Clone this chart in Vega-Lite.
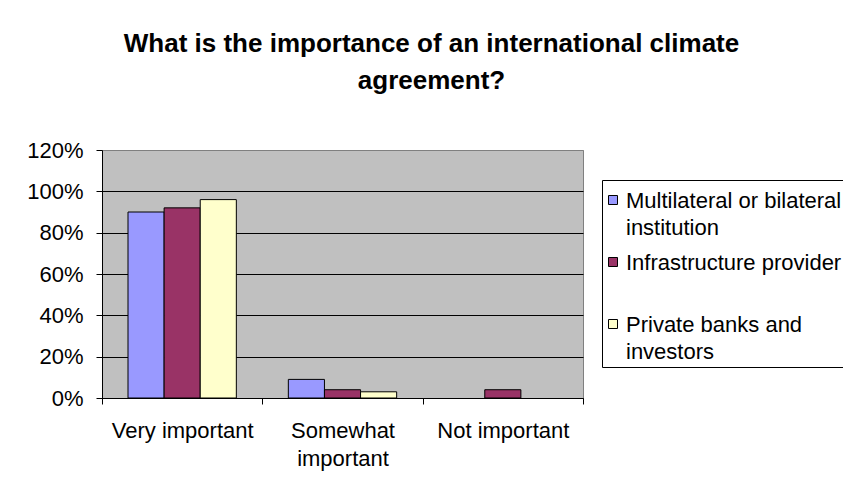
{
  "$schema": "https://vega.github.io/schema/vega-lite/v6.json",
  "autosize": {"type": "none"},
  "width": 481,
  "height": 248,
  "padding": {"left": 102, "top": 150, "right": 260, "bottom": 92},
  "background": "white",
  "title": {
    "text": ["What is the importance of an international climate", "agreement?"],
    "font": "Liberation Sans",
    "fontSize": 26,
    "fontWeight": "bold",
    "color": "black",
    "anchor": "middle",
    "dx": 89,
    "lineHeight": 37,
    "offset": 45
  },
  "data": {
    "values": [
      {"category": "Very important", "group": "Multilateral or bilateral institution", "value": 0.90},
      {"category": "Very important", "group": "Infrastructure provider", "value": 0.92},
      {"category": "Very important", "group": "Private banks and investors", "value": 0.96},
      {"category": "Somewhat important", "group": "Multilateral or bilateral institution", "value": 0.09},
      {"category": "Somewhat important", "group": "Infrastructure provider", "value": 0.04},
      {"category": "Somewhat important", "group": "Private banks and investors", "value": 0.03},
      {"category": "Not important", "group": "Infrastructure provider", "value": 0.04}
    ]
  },
  "mark": {"type": "bar", "stroke": "black", "strokeWidth": 1},
  "encoding": {
    "x": {
      "field": "category",
      "type": "nominal",
      "sort": ["Very important", "Somewhat important", "Not important"],
      "scale": {"paddingInner": 0, "paddingOuter": 0},
      "axis": {
        "title": null,
        "labelAngle": 0,
        "labelFont": "Liberation Sans",
        "labelFontSize": 22,
        "labelColor": "black",
        "labelPadding": 16,
        "labelLineHeight": 28,
        "labelExpr": "datum.label == 'Somewhat important' ? ['Somewhat', 'important'] : datum.label",
        "tickBand": "extent",
        "tickSize": 6,
        "tickColor": "black",
        "domainColor": "black",
        "grid": false
      }
    },
    "xOffset": {
      "field": "group",
      "type": "nominal",
      "sort": ["Multilateral or bilateral institution", "Infrastructure provider", "Private banks and investors"],
      "scale": {"domain": ["Multilateral or bilateral institution", "Infrastructure provider", "Private banks and investors"], "paddingInner": 0, "paddingOuter": 0.72}
    },
    "y": {
      "field": "value",
      "type": "quantitative",
      "scale": {"domain": [0, 1.2], "nice": false},
      "axis": {
        "title": null,
        "values": [0, 0.2, 0.4, 0.6, 0.8, 1.0, 1.2],
        "format": ".0%",
        "labelFont": "Liberation Sans",
        "labelFontSize": 22,
        "labelColor": "black",
        "labelPadding": 13,
        "tickSize": 6,
        "tickColor": "black",
        "domainColor": "black",
        "grid": true,
        "gridColor": {"condition": {"test": "datum.value >= 1.19", "value": "#808080"}, "value": "black"},
        "gridOpacity": 1,
        "gridWidth": 1
      }
    },
    "color": {
      "field": "group",
      "type": "nominal",
      "scale": {
        "domain": ["Multilateral or bilateral institution", "Infrastructure provider", "Private banks and investors"],
        "range": ["#9999FF", "#993366", "#FFFFCC"]
      },
      "legend": {
        "orient": "none",
        "legendX": 500,
        "legendY": 30,
        "title": " ",
        "titleFontSize": 4,
        "titlePadding": 1,
        "padding": 4,
        "strokeColor": "black",
        "fillColor": "white",
        "symbolType": "square",
        "symbolSize": 81,
        "symbolOffset": -4,
        "symbolStrokeColor": "black",
        "symbolStrokeWidth": 1,
        "symbolOpacity": 1,
        "labelFont": "Liberation Sans",
        "labelFontSize": 22,
        "labelColor": "black",
        "labelLimit": 400,
        "labelOffset": 2,
        "labelBaseline": "top",
        "rowPadding": 12,
        "labelExpr": "datum.label == 'Multilateral or bilateral institution' ? ['Multilateral or bilateral', 'institution'] : datum.label == 'Infrastructure provider' ? ['Infrastructure provider', ' '] : ['Private banks and', 'investors']",
        "encode": {
          "labels": {"update": {"dy": {"value": -9.5}, "lineHeight": {"value": 27}}}
        }
      }
    }
  },
  "config": {
    "view": {"fill": "#C0C0C0", "stroke": "#808080", "strokeWidth": 1},
    "font": "Liberation Sans"
  }
}
